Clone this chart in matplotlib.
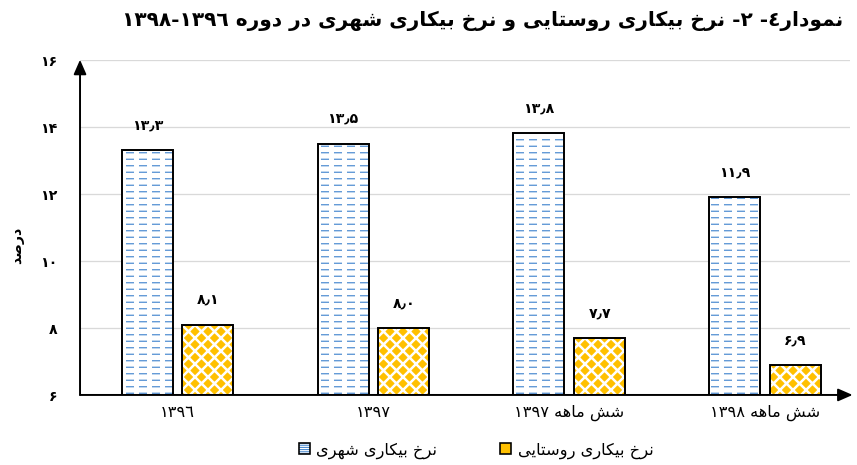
import re
import matplotlib
matplotlib.use('Agg')
import matplotlib.pyplot as plt
from matplotlib import font_manager as fm, ft2font
from matplotlib.patches import Rectangle
from matplotlib.legend_handler import HandlerTuple
import numpy as np

# ---------------- data ----------------
categories = ['۱۳۹٦', '۱۳۹۷', 'شش ماهه ۱۳۹۷', 'شش ماهه ۱۳۹۸']
urban = [13.3, 13.5, 13.8, 11.9]
rural = [8.1, 8.0, 7.7, 6.9]
yticks = [6, 8, 10, 12, 14, 16]
series_names = ['نرخ بیکاری شهری', 'نرخ بیکاری روستایی']
title_text = 'نمودار٤- ۲- نرخ بیکاری روستایی و نرخ بیکاری شهری در دوره ١٣٩٦-١٣٩٨'
ylabel_text = 'درصد'

# ---------------- simple Arabic/Persian shaping ----------------
FORMS = {
    'ا': ('\uFE8D', '\uFE8E', None, None),
    'ب': ('\uFE8F', '\uFE90', '\uFE91', '\uFE92'),
    'ت': ('\uFE95', '\uFE96', '\uFE97', '\uFE98'),
    'خ': ('\uFEA5', '\uFEA6', '\uFEA7', '\uFEA8'),
    'د': ('\uFEA9', '\uFEAA', None, None),
    'ر': ('\uFEAD', '\uFEAE', None, None),
    'س': ('\uFEB1', '\uFEB2', '\uFEB3', '\uFEB4'),
    'ش': ('\uFEB5', '\uFEB6', '\uFEB7', '\uFEB8'),
    'ص': ('\uFEB9', '\uFEBA', '\uFEBB', '\uFEBC'),
    'م': ('\uFEE1', '\uFEE2', '\uFEE3', '\uFEE4'),
    'ن': ('\uFEE5', '\uFEE6', '\uFEE7', '\uFEE8'),
    'ه': ('\uFEE9', '\uFEEA', '\uFEEB', '\uFEEC'),
    'و': ('\uFEED', '\uFEEE', None, None),
    'ی': ('\uFBFC', '\uFBFD', '\uFBFE', '\uFBFF'),
    'ک': ('\uFB8E', '\uFB8F', '\uFB90', '\uFB91'),
}
FALLBACK = {'ی': ('\uFEEF', '\uFEF0', '\uFEF3', '\uFEF4'),
            'ک': ('\uFED9', '\uFEDA', '\uFEDB', '\uFEDC')}


def font_has(weight, chars):
    try:
        f = ft2font.FT2Font(fm.findfont(fm.FontProperties(family='DejaVu Sans', weight=weight)))
        return all(f.get_char_index(ord(c)) for c in chars)
    except Exception:
        return False


def forms_for(weight):
    forms = dict(FORMS)
    for k, v in FALLBACK.items():
        if not font_has(weight, [c for c in forms[k] if c]):
            forms[k] = v
    return forms


FORMS_N = forms_for('normal')
FORMS_B = forms_for('bold')
BOLD_OK = font_has('bold', [c for v in FORMS_B.values() for c in v if c])
BOLD = 'bold' if BOLD_OK else 'normal'
if not BOLD_OK:
    FORMS_B = FORMS_N


def shape(s, forms):
    out = []
    n = len(s)
    for i, c in enumerate(s):
        if c not in forms:
            out.append(c)
            continue
        f = forms[c]
        prev = s[i - 1] if i > 0 else None
        nxt = s[i + 1] if i < n - 1 else None
        jp = prev in forms and forms[prev][2] is not None
        jn = f[2] is not None and nxt in forms
        if jp and jn:
            out.append(f[3])
        elif jp:
            out.append(f[1])
        elif jn:
            out.append(f[2])
        else:
            out.append(f[0])
    return ''.join(out)


DIG = r'[0-9\u0660-\u0669\u06F0-\u06F9\u066B]+'


def rtl(s, bold=False):
    v = shape(s, FORMS_B if bold else FORMS_N)[::-1]
    return re.sub(DIG, lambda m: m.group(0)[::-1], v)


FA = str.maketrans('0123456789.', '۰۱۲۳۴۵۶۷۸۹٫')


def fa(x):
    return str(x).translate(FA)


# ---------------- figure ----------------
DPI = 78
fig = plt.figure(figsize=((857 + 0.3) / DPI, (465 + 0.3) / DPI), dpi=DPI)
ax = fig.add_axes([80 / 857, 70 / 465, 770 / 857, 335 / 465])

BLUE = '#4A8AD0'
YELLOW = '#FFC000'
x = np.arange(len(categories))
w = 0.26
off = 0.155


def set_hlw(bars, lw):
    for b in bars:
        if hasattr(b, 'set_hatch_linewidth'):
            b.set_hatch_linewidth(lw)


ub1 = ax.bar(x - off, urban, w, color='white', edgecolor=BLUE, linewidth=0, hatch='--', zorder=2)
set_hlw(ub1, 1.1)
ub2 = ax.bar(x - off, urban, w, color='none', edgecolor='white', linewidth=0, hatch='|', zorder=3)
set_hlw(ub2, 4.6)
ub3 = ax.bar(x - off, urban, w, color='none', edgecolor='black', linewidth=1.8, zorder=4)

rb1 = ax.bar(x + off, rural, w, color=YELLOW, edgecolor='white', linewidth=0, hatch='xx', zorder=2)
set_hlw(rb1, 2.3)
rb3 = ax.bar(x + off, rural, w, color='none', edgecolor='black', linewidth=1.8, zorder=4)

for xi, v in zip(x - off, urban):
    ax.annotate(fa(v), (xi, v), xytext=(0, 23), textcoords='offset points',
                ha='center', va='center', fontsize=13, fontweight='bold')
for xi, v in zip(x + off, rural):
    ax.annotate(fa(v), (xi, v), xytext=(0, 23), textcoords='offset points',
                ha='center', va='center', fontsize=13, fontweight='bold')

ax.set_ylim(6, 16)
ax.set_xlim(-0.498, 3.435)
ax.set_yticks(yticks)
ax.set_yticklabels([fa(t) for t in yticks], fontsize=13, fontweight='bold')
ax.set_xticks(x)
ax.set_xticklabels([rtl(c) for c in categories], fontsize=15)
ax.tick_params(axis='both', length=0)
ax.tick_params(axis='y', pad=21)
ax.tick_params(axis='x', pad=9)
ax.yaxis.grid(True, color='#D9D9D9', linewidth=1.2, zorder=0)
ax.set_axisbelow(True)
for s in ax.spines.values():
    s.set_visible(False)

# axes with arrows
arr = dict(arrowstyle='-|>,head_length=0.8,head_width=0.35', color='black',
           lw=1.8, shrinkA=0, shrinkB=0, mutation_scale=14)
ax.annotate('', xy=(0, 1.0), xytext=(0, 0), xycoords='axes fraction',
            textcoords='axes fraction', arrowprops=arr, zorder=6)
ax.annotate('', xy=(1.003, 0), xytext=(0, 0), xycoords='axes fraction',
            textcoords='axes fraction', arrowprops=arr, zorder=6)

fig.text(17 / 857, 1 - 245 / 465, rtl(ylabel_text, True), rotation=90,
         ha='center', va='center', fontsize=13, fontweight=BOLD)

fig.text(482 / 857, 1 - 21 / 465, rtl(title_text, True), ha='center', va='center',
         fontsize=18.6, fontweight=BOLD)

# legend
hu_a = Rectangle((0, 0), 1, 1, facecolor='white', edgecolor=BLUE, linewidth=0, hatch='------')
hu_b = Rectangle((0, 0), 1, 1, facecolor='none', edgecolor='black', linewidth=1.5)
hr_a = Rectangle((0, 0), 1, 1, facecolor=YELLOW, edgecolor=YELLOW, linewidth=0)
hr_b = Rectangle((0, 0), 1, 1, facecolor='none', edgecolor='black', linewidth=1.5)
fig.legend([(hu_a, hu_b), (hr_a, hr_b)], [rtl(n) for n in series_names],
           handler_map={tuple: HandlerTuple(ndivide=1)},
           loc='center', bbox_to_anchor=(476 / 857, 1 - 450 / 465), ncol=2,
           frameon=False, fontsize=15, handlelength=0.65, handleheight=0.65,
           handletextpad=0.4, columnspacing=3.9)

fig.savefig('out.png', dpi=DPI)
